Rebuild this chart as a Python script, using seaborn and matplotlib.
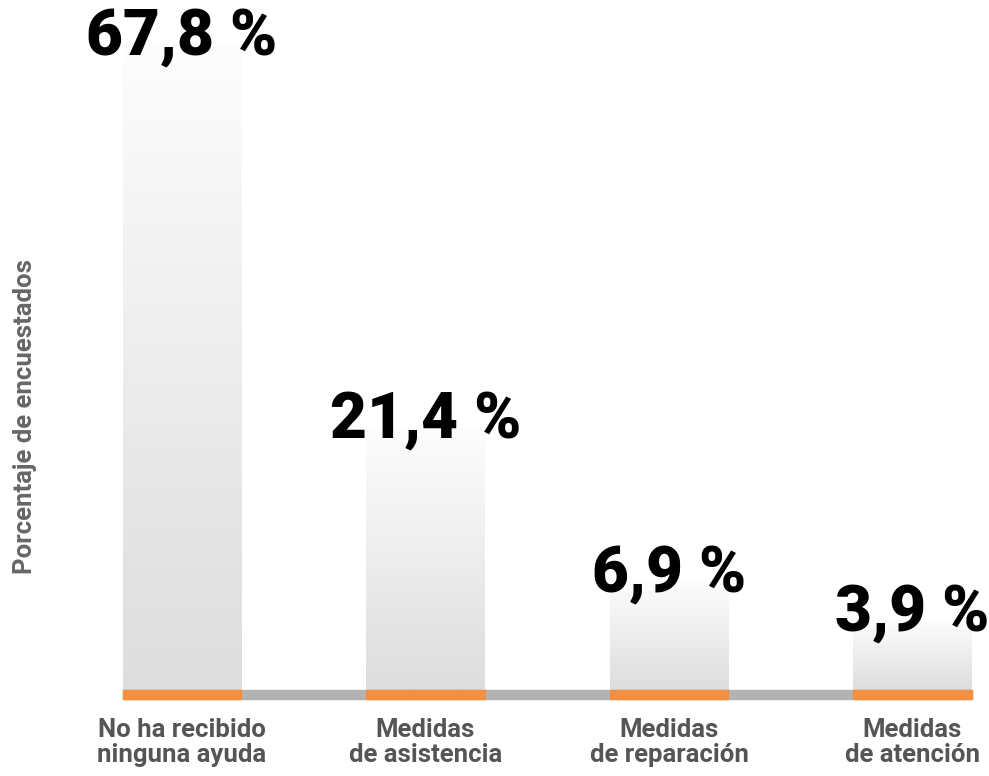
import numpy as np
import pandas as pd
import matplotlib.pyplot as plt
import matplotlib.transforms as mtransforms
from matplotlib.colors import LinearSegmentedColormap
from matplotlib.patches import Rectangle
import seaborn as sns

#########################
## datos
categorias = ['No ha recibido\nninguna ayuda', 'Medidas\nde asistencia',
              'Medidas\nde reparación', 'Medidas\nde atención']
porcentajes = [67.8, 21.4, 6.9, 3.9]
etiquetas = ['67,8 %', '21,4 %', '6,9 %', '3,9 %']

sns.set_style('white')
plt.rcParams['font.family'] = ['Roboto', 'DejaVu Sans']

df = pd.DataFrame({'categoria': categorias, 'porcentaje': porcentajes})

fig = plt.figure(figsize=(9.89, 7.76), dpi=100)
ax = fig.add_axes([60.5 / 989, 86 / 776, (989 - 60.5) / 989, 690 / 776])

ancho = 0.485
sns.barplot(data=df, x='categoria', y='porcentaje', color='#e6e6e6',
            width=ancho, ax=ax)

# escala de potencia (las barras pequeñas se ven más altas, como en el original)
expo = 0.78
ax.set_yscale('function', functions=(lambda v: np.sign(v) * np.abs(v) ** expo,
                                     lambda v: np.sign(v) * np.abs(v) ** (1 / expo)))
ax.set_ylim(0, max(porcentajes) * 0.935 ** (-1 / expo))
ax.set_xlim(-(182 - 60.5) / 243.5, 3 + (989 - 912.5) / 243.5)

# degradado en cada barra
cmap = LinearSegmentedColormap.from_list('gris', ['#fdfdfd', '#dddddd'])
grad = np.linspace(0, 1, 256).reshape(-1, 1)
for p in ax.patches:
    x0, y0, w, h = p.get_x(), p.get_y(), p.get_width(), p.get_height()
    disp = ax.transData.transform([[x0, y0], [x0 + w, y0 + h]])
    axc = ax.transAxes.inverted().transform(disp)
    ax.imshow(grad, cmap=cmap, origin='upper', aspect='auto',
              extent=(axc[0, 0], axc[1, 0], axc[0, 1], axc[1, 1]),
              transform=ax.transAxes, zorder=1)
    p.set_visible(False)

# linea base gris y tiras naranjas
blend = mtransforms.blended_transform_factory(ax.transData, ax.transAxes)
alto = 9 / 690
ax.add_patch(Rectangle((-ancho / 2, -alto), 3 + ancho, alto, transform=blend,
                       color='#b3b3b3', clip_on=False, zorder=3))
for i in range(len(porcentajes)):
    ax.add_patch(Rectangle((i - ancho / 2, -alto), ancho, alto, transform=blend,
                           color='#f39040', clip_on=False, zorder=4))

# etiquetas de valor
for i, (v, t) in enumerate(zip(porcentajes, etiquetas)):
    ax.annotate(t, xy=(i, v), xytext=(0, 5), textcoords='offset points',
                ha='center', va='center', fontsize=46, fontweight='black',
                color='black', zorder=5)

ax.set_xlabel('')
ax.set_ylabel('')
ax.set_yticks([])
ax.tick_params(axis='x', length=0, pad=20, labelsize=18.5, labelcolor='#555555')
for t in ax.get_xticklabels():
    t.set_fontweight('bold')
    t.set_linespacing(1.05)
sns.despine(ax=ax, left=True, bottom=True)

fig.text(25 / 989, 1 - 417 / 776, 'Porcentaje de encuestados', rotation=90,
         ha='center', va='center', fontsize=18.5, fontweight='bold', color='#666666')

fig.savefig('out.png', dpi=100)
